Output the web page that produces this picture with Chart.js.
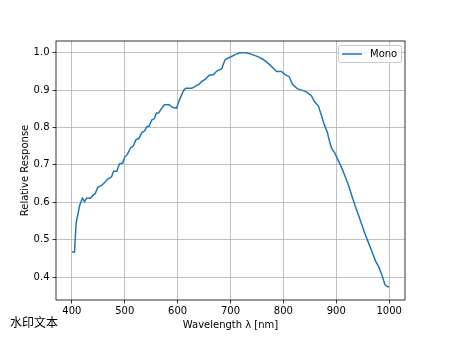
<!DOCTYPE html>
<html><head><meta charset="utf-8">
<script src="https://cdn.jsdelivr.net/npm/chart.js@4/dist/chart.umd.min.js"></script>
<style>html,body{margin:0;padding:0;background:#fff}#wrap{width:450px;height:338px;position:relative}</style>
</head><body><div id="wrap"><canvas id="c" width="450" height="338"></canvas></div>
<script>
const wavelengths = [400,405,408,415,420,424,428,435,440,444,449,456,462,468,475,479,485,490,496,500,505,511,516,521,527,532,537,542,546,551,556,560,564,570,575,584,590,598,604,612,616,627,633,641,645,652,660,668,674,683,690,699,709,718,730,737,745,753,762,772,780,787,796,804,811,817,826,835,845,853,859,866,872,878,883,887,891,897,905,911,917,924,930,936,943,949,955,962,968,974,981,986,992,997,1000];
const monoResponse = [0.467,0.467,0.544,0.593,0.611,0.602,0.611,0.611,0.619,0.623,0.640,0.645,0.653,0.662,0.668,0.683,0.683,0.703,0.705,0.721,0.728,0.746,0.750,0.767,0.771,0.786,0.790,0.803,0.803,0.820,0.824,0.839,0.839,0.852,0.861,0.861,0.854,0.852,0.876,0.901,0.905,0.905,0.910,0.916,0.923,0.929,0.940,0.942,0.951,0.957,0.982,0.988,0.995,1.0,1.0,0.997,0.993,0.989,0.982,0.971,0.960,0.950,0.950,0.941,0.936,0.916,0.904,0.900,0.894,0.885,0.869,0.858,0.832,0.805,0.788,0.765,0.745,0.732,0.708,0.690,0.668,0.642,0.615,0.589,0.562,0.537,0.513,0.488,0.466,0.444,0.425,0.407,0.380,0.374,0.374];
const xTicks = [400,500,600,700,800,900,1000];
const yTicks = [0.4,0.5,0.6,0.7,0.8,0.9,1.0];
const seriesLabel = 'Mono';
const xTitle = 'Wavelength \u03bb [nm]';
const yTitle = 'Relative Response';
const watermark = '水印文本';

const FONT = 'DejaVu Sans';
const points = wavelengths.map((w,i)=>({x:w,y:monoResponse[i]}));

const extras = {
  id:'extras',
  afterDraw(chart){
    const ctx = chart.ctx, a = chart.chartArea;
    ctx.save();
    // spines
    ctx.strokeStyle='#000'; ctx.lineWidth=0.8;
    ctx.strokeRect(a.left, a.top, a.right-a.left, a.bottom-a.top);
    // titles
    ctx.fillStyle='#000';
    ctx.font = '10px "'+FONT+'"';
    ctx.textAlign='center'; ctx.textBaseline='middle';
    ctx.fillText(xTitle, (a.left+a.right)/2, 325);
    ctx.save();
    ctx.translate(25, (a.top+a.bottom)/2);
    ctx.rotate(-Math.PI/2);
    ctx.fillText(yTitle, 0, 0);
    ctx.restore();
    // watermark
    ctx.font = '12px "Noto Sans CJK SC"';
    ctx.textAlign='left';
    ctx.fillText(watermark, 10, 322);
    // legend
    const lx=338, ly=45, lw=63, lh=17;
    ctx.beginPath();
    if (ctx.roundRect) ctx.roundRect(lx+0.5, ly+0.5, lw, lh, 2); else ctx.rect(lx+0.5,ly+0.5,lw,lh);
    ctx.fillStyle='rgba(255,255,255,0.8)'; ctx.fill();
    ctx.strokeStyle='#cccccc'; ctx.lineWidth=1; ctx.stroke();
    ctx.beginPath(); ctx.moveTo(342, 54); ctx.lineTo(362, 54);
    ctx.strokeStyle='#1f77b4'; ctx.lineWidth=1.5; ctx.stroke();
    ctx.fillStyle='#000'; ctx.font='10px "'+FONT+'"';
    ctx.textAlign='left'; ctx.textBaseline='middle';
    ctx.fillText(seriesLabel, 370, 54.5);
    ctx.restore();
  }
};

new Chart(document.getElementById('c'), {
  type:'line',
  data:{datasets:[{label:seriesLabel, data:points, borderColor:'#1f77b4', borderWidth:1.5, pointRadius:0, tension:0, fill:false}]},
  options:{
    responsive:false, animation:false, devicePixelRatio:1,
    layout:{padding:{left:0,right:45,top:41,bottom:0}},
    plugins:{legend:{display:false}, tooltip:{enabled:false}},
    scales:{
      x:{type:'linear', min:370, max:1030,
        afterBuildTicks(s){ s.ticks = xTicks.map(v=>({value:v})); },
        afterFit(s){ s.height = 38; },
        grid:{color:'#b0b0b0', lineWidth:0.8, tickLength:3.5, tickColor:'#000', drawTicks:true},
        border:{display:false},
        ticks:{color:'#000', font:{family:FONT,size:10}, padding:2, maxRotation:0, callback:v=>String(v)}
      },
      y:{type:'linear', min:0.3385, max:1.0315,
        afterBuildTicks(s){ s.ticks = yTicks.map(v=>({value:v})); },
        afterFit(s){ s.width = 56; },
        grid:{color:'#b0b0b0', lineWidth:0.8, tickLength:3.5, tickColor:'#000', drawTicks:true},
        border:{display:false},
        ticks:{color:'#000', font:{family:FONT,size:10}, padding:3, callback:v=>v.toFixed(1)}
      }
    }
  },
  plugins:[extras]
});
</script></body></html>
